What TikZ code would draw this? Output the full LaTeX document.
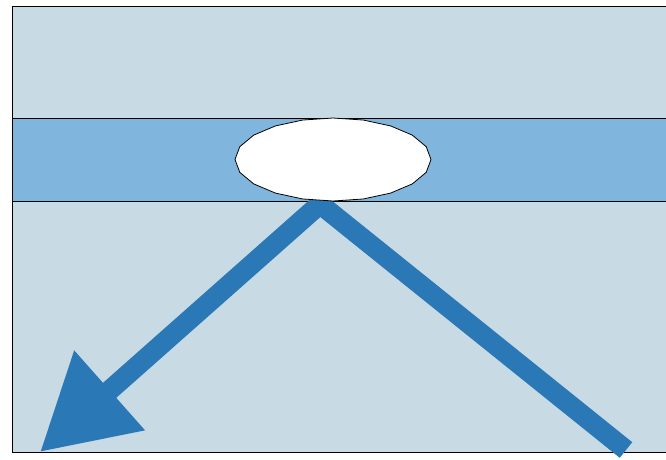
\documentclass[tikz,border=0pt]{standalone}
\usetikzlibrary{arrows.meta}

\definecolor{paleblue}{HTML}{C8DAE4}
\definecolor{bandblue}{HTML}{80B6DD}
\definecolor{rayblue}{HTML}{2A78B6}

\begin{document}
\begin{tikzpicture}[x=1pt,y=-1pt]

    % Fix the picture size
    \clip (0,0) rectangle (666,459);

    % Define coordinates
    % S is where the ray enters at the bottom right
    \coordinate (S) at (626,450);
    % H is the point where the ray meets the layer
    \coordinate (H) at (320,204);
    % T is the tip of the reflected ray
    \coordinate (T) at (40,452);

    % Draw the medium
    \draw[fill=paleblue, line width=0.8pt] (12,6) rectangle (690,452);

    % Draw the layer
    \draw[fill=bandblue, line width=0.8pt] (12,118) rectangle (690,201);

    % Draw the ray and its reflection
    \draw[rayblue, line width=20pt, line join=bevel,
          -{Triangle[length=93pt,width=101pt]}] (S) -- (H) -- (T);

    % Draw the hole in the layer
    \draw[fill=white, line width=0.8pt]
        plot[samples=21, domain=0:360] ({333+98*cos(\x)}, {159.5+41.5*sin(\x)}) -- cycle;

\end{tikzpicture}
\end{document}
